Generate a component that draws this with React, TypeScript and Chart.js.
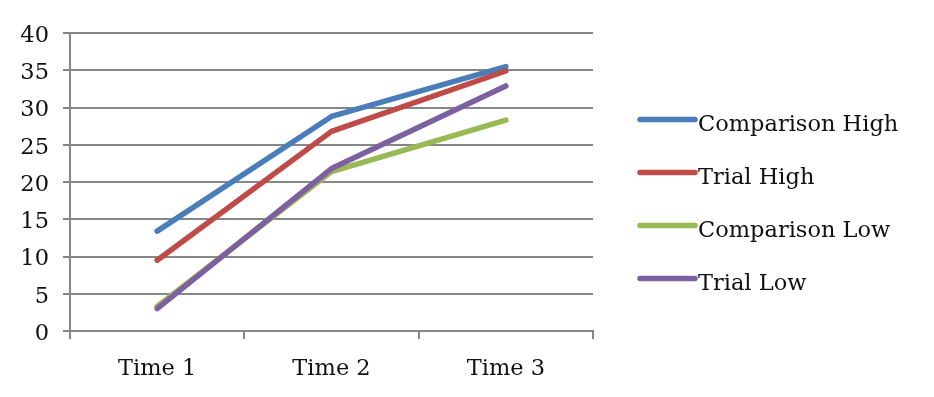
import React, { useEffect, useRef } from "react";
import { Chart, registerables } from "chart.js";

Chart.register(...registerables);

const categories = ["Time 1", "Time 2", "Time 3"];
const seriesNames = ["Comparison High", "Trial High", "Comparison Low", "Trial Low"];
const comparisonHigh = [13.4, 28.8, 35.5];
const trialHigh = [9.5, 26.8, 34.9];
const comparisonLow = [3.3, 21.4, 28.3];
const trialLow = [3.0, 21.8, 32.9];
const seriesColors = ["#4a7ebb", "#be4b48", "#98b954", "#7d60a0"];
const yMin = 0;
const yMax = 40;
const yStep = 5;

const FONT = "'DejaVu Serif', serif";
const FONT_SIZE = 22.5;

const legendPlugin = {
  id: "customLegend",
  afterDraw(chart: any) {
    const ctx = chart.ctx;
    const area = chart.chartArea;
    const x0 = area.right + 47;
    const lineLen = 55;
    ctx.save();
    chart.data.datasets.forEach((ds: any, i: number) => {
      const y = 119.5 + i * 53;
      ctx.strokeStyle = ds.borderColor;
      ctx.lineWidth = 5.5;
      ctx.lineCap = "round";
      ctx.beginPath();
      ctx.moveTo(x0, y);
      ctx.lineTo(x0 + lineLen, y);
      ctx.stroke();
      ctx.fillStyle = "#111";
      ctx.font = FONT_SIZE + "px " + FONT;
      ctx.textBaseline = "alphabetic";
      ctx.textAlign = "left";
      ctx.fillText(ds.label, x0 + lineLen + 3, y + 11);
    });
    ctx.restore();
  },
};

export default function App() {
  const ref = useRef<HTMLCanvasElement | null>(null);
  useEffect(() => {
    if (!ref.current) return;
    const allData = [comparisonHigh, trialHigh, comparisonLow, trialLow];
    const chart = new Chart(ref.current, {
      type: "line",
      data: {
        labels: categories,
        datasets: allData.map((d, i) => ({
          label: seriesNames[i],
          data: d,
          order: allData.length - i,
          borderColor: seriesColors[i],
          backgroundColor: seriesColors[i],
          borderWidth: 5.5,
          pointRadius: 0,
          tension: 0,
          borderCapStyle: "round",
          borderJoinStyle: "round",
          fill: false,
        })),
      },
      options: {
        responsive: false,
        animation: false,
        layout: { padding: { left: 0, top: 33, right: 341, bottom: 0 } },
        plugins: { legend: { display: false }, tooltip: { enabled: false } },
        scales: {
          x: {
            offset: true,
            grid: {
              offset: true,
              drawOnChartArea: false,
              drawTicks: true,
              tickLength: 8,
              color: "#878787",
              lineWidth: 2,
            },
            border: { display: true, color: "#878787", width: 2 },
            ticks: { font: { family: FONT, size: FONT_SIZE }, color: "#111", padding: 17 },
            afterFit: (s: any) => {
              s.height = 66;
            },
          },
          y: {
            min: yMin,
            max: yMax,
            ticks: {
              stepSize: yStep,
              font: { family: FONT, size: FONT_SIZE },
              color: "#111",
              padding: 14,
              labelOffset: 3,
            },
            grid: { color: "#878787", lineWidth: 2, tickLength: 7 },
            border: { display: true, color: "#878787", width: 2 },
            afterFit: (s: any) => {
              s.width = 70;
            },
          },
        },
      },
      plugins: [legendPlugin],
    });
    return () => chart.destroy();
  }, []);
  return (
    <div style={{ position: "absolute", left: 0, top: 0, width: 934, height: 397, background: "#fff" }}>
      <canvas ref={ref} width={934} height={397} />
    </div>
  );
}
